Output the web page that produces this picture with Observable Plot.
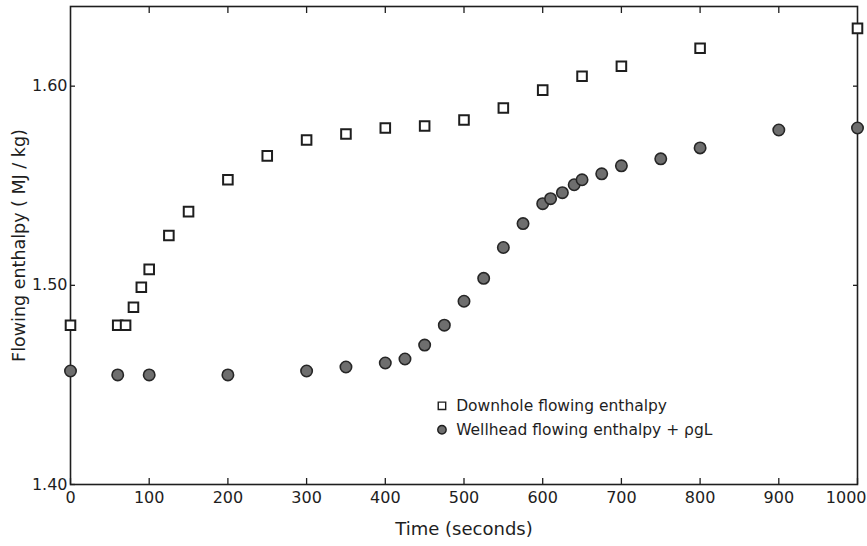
<!DOCTYPE html>
<html>
<head>
<meta charset="utf-8">
<script src="https://cdn.jsdelivr.net/npm/d3@7"></script>
<script src="https://cdn.jsdelivr.net/npm/@observablehq/plot@0.6"></script>
<style>
  html, body { margin: 0; padding: 0; background: #fff; }
  #chart { width: 867px; height: 546px; }
</style>
</head>
<body>
<div id="chart"></div>
<script>
// Downhole flowing enthalpy (squares)
const downTime  = [0, 60, 70, 80, 90, 100, 125, 150, 200, 250, 300, 350, 400, 450, 500, 550, 600, 650, 700, 800, 1000];
const downValue = [1.480, 1.480, 1.480, 1.489, 1.499, 1.508, 1.525, 1.537, 1.553, 1.565, 1.573, 1.576, 1.579, 1.580, 1.583, 1.589, 1.598, 1.605, 1.610, 1.619, 1.629];

// Wellhead flowing enthalpy + rho g L (filled circles)
const wellTime  = [0, 60, 100, 200, 300, 350, 400, 425, 450, 475, 500, 525, 550, 575, 600, 610, 625, 640, 650, 675, 700, 750, 800, 900, 1000];
const wellValue = [1.457, 1.455, 1.455, 1.455, 1.457, 1.459, 1.461, 1.463, 1.470, 1.480, 1.492, 1.5035, 1.519, 1.531, 1.541, 1.5435, 1.5465, 1.5505, 1.553, 1.556, 1.560, 1.5635, 1.569, 1.578, 1.579];

// Axis ticks
const xTicks = [0, 100, 200, 300, 400, 500, 600, 700, 800, 900, 1000];
const xLabelTicks = [0, 100, 200, 300, 400, 500, 600, 700, 800, 900];
const xLastTick = [1000];
const xTopTicks = [100, 200, 300, 400, 500, 600, 700, 800, 900];
const yTicks = [1.40, 1.50, 1.60];
const yRightTicks = [1.50, 1.60];

// Legend entries (anchored in data space)
const legendLabels = ["Downhole flowing enthalpy", "Wellhead flowing enthalpy + ρgL"];
const legendSymbols = ["square", "circle"];
const legendTime = 472;
const legendTextTime = 490;
const legendValues = [1.4395, 1.4275];

const down = downTime.map((t, i) => ({t, v: downValue[i]}));
const well = wellTime.map((t, i) => ({t, v: wellValue[i]}));
const legend = legendLabels.map((label, i) => ({label, symbol: legendSymbols[i], t: legendTime, tt: legendTextTime, v: legendValues[i]}));

const ink = "#1e1e1e";
const blank = () => "";
const fmtX = d3.format("d");

const chart = Plot.plot({
  width: 867,
  height: 546,
  marginLeft: 70,
  marginRight: 10,
  marginTop: 6,
  marginBottom: 62,
  style: {fontFamily: "'DejaVu Sans', sans-serif", color: ink, background: "#fff"},
  x: {domain: [0, 1000]},
  y: {domain: [1.40, 1.64]},
  marks: [
    Plot.frame({stroke: ink, strokeWidth: 1.6}),
    // tick labels
    Plot.axisX({anchor: "bottom", ticks: xLabelTicks, tickSize: 0, tickPadding: 7, fontSize: 16,
      tickFormat: fmtX, label: null}),
    Plot.axisX({anchor: "bottom", ticks: xLastTick, tickSize: 0, tickPadding: 7, fontSize: 16,
      tickFormat: fmtX, textAnchor: "end", dx: 9, label: null}),
    Plot.axisY({anchor: "left", ticks: yTicks, tickSize: 0, tickPadding: 3, fontSize: 16,
      tickFormat: d3.format(".2f"), label: null}),
    // axis titles
    Plot.axisX({anchor: "bottom", ticks: [], tickSize: 0, fontSize: 18,
      label: "Time (seconds)", labelAnchor: "center", labelArrow: "none", labelOffset: 50, dx: 9}),
    Plot.axisY({anchor: "left", ticks: [], tickSize: 0, fontSize: 17.5,
      label: "Flowing enthalpy ( MJ / kg)", labelAnchor: "center", labelArrow: "none", labelOffset: 58}),
    // inward ticks
    Plot.axisX({anchor: "bottom", ticks: xTicks, tickSize: -6, tickFormat: blank, label: null, stroke: ink, strokeWidth: 1.3}),
    Plot.axisX({anchor: "top", ticks: xTopTicks, tickSize: -6, tickFormat: blank, label: null, stroke: ink, strokeWidth: 1.3}),
    Plot.axisY({anchor: "left", ticks: yTicks, tickSize: -5, tickFormat: blank, label: null, stroke: ink, strokeWidth: 1.3}),
    Plot.axisY({anchor: "right", ticks: yRightTicks, tickSize: -5, tickFormat: blank, label: null, stroke: ink, strokeWidth: 1.3}),
    // data
    Plot.dot(down, {x: "t", y: "v", symbol: "square", r: 5.4, fill: "#fff", stroke: ink, strokeWidth: 2}),
    Plot.dot(well, {x: "t", y: "v", symbol: "circle", r: 5.7, fill: "#6e6e6e", stroke: "#262626", strokeWidth: 1.6}),
    // legend
    Plot.dot(legend, {x: "t", y: "v", symbol: "symbol", r: 4.2, fill: d => d.symbol === "circle" ? "#6e6e6e" : "#fff", stroke: ink, strokeWidth: 1.4}),
    Plot.text(legend, {x: "tt", y: "v", text: "label", textAnchor: "start", fontSize: 15.5, fill: ink})
  ]
});

document.getElementById("chart").appendChild(chart);
</script>
</body>
</html>
